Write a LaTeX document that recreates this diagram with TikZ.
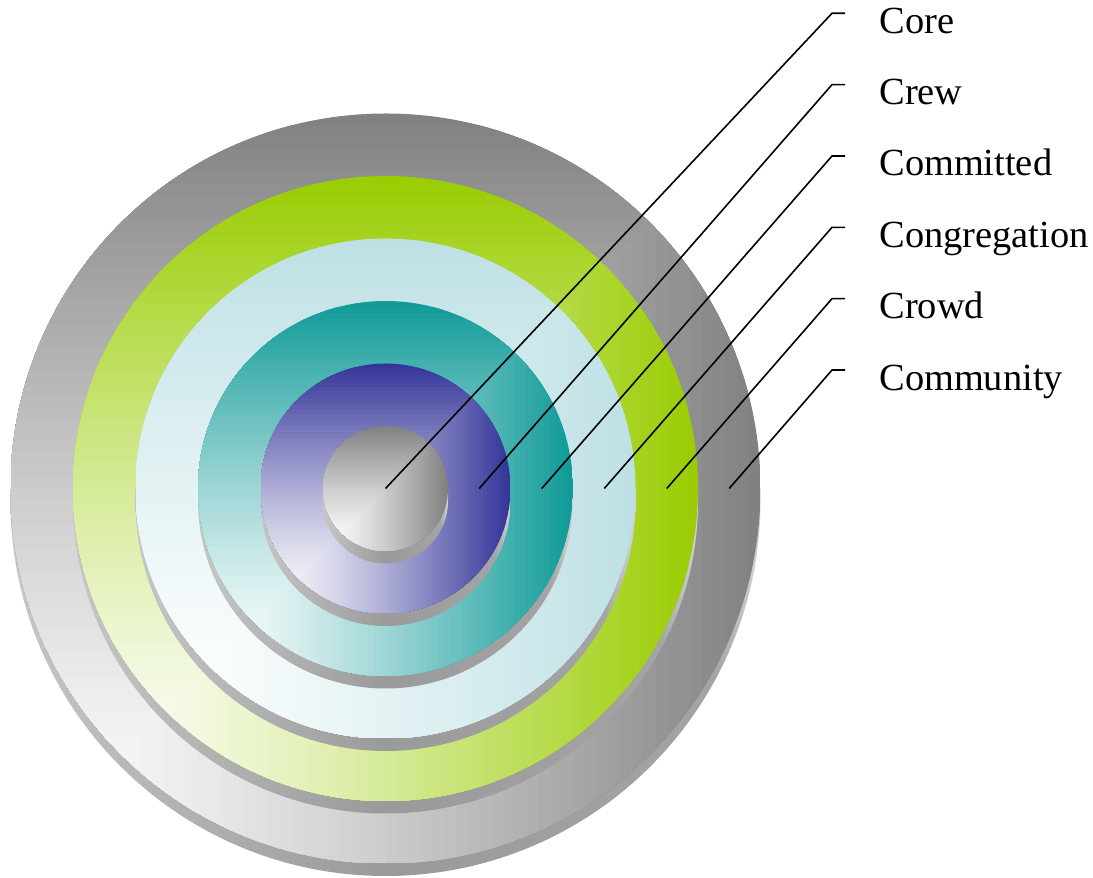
\documentclass[tikz,border=0pt]{standalone}
\usepackage{fontspec}
\setmainfont{Liberation Serif}
\usepackage{tikz}
\usetikzlibrary{calc}
\definecolor{ringgray}{HTML}{808080}
\definecolor{ringgreen}{HTML}{99CC00}
\definecolor{ringsky}{HTML}{BDE0E4}
\definecolor{ringteal}{HTML}{0E9A98}
\definecolor{ringblue}{HTML}{333399}
\definecolor{rimA}{HTML}{C6C6C6}
\definecolor{rimB}{HTML}{9A9A9A}
\definecolor{rimC}{HTML}{A4A4A4}
\definecolor{rimD}{HTML}{D4D4D4}
\pgfdeclarehorizontalshading{rimshade}{100bp}{color(0bp)=(rimA); color(25bp)=(rimA); color(50bp)=(rimB); color(72bp)=(rimC); color(75bp)=(rimD); color(100bp)=(rimD)}
\newcommand\ringface[2]{%
\begin{scope}
\clip (C) circle (#1);
\foreach \i in {64,63,...,1}{
  \pgfmathsetmacro\mixp{100*((\i-0.5)/64)^1.3}
  \pgfmathsetmacro\sq{#1/32*\i}
  \fill[#2!\mixp!white] ($(C)+(-#1,-#1)$) rectangle ++(\sq,\sq);
}
\end{scope}}

\begin{document}
\begin{tikzpicture}[x=0.5pt,y=0.5pt,
  lab/.style={anchor=base west,inner sep=0pt,font=\fontsize{19.2}{23}\selectfont},
  leader/.style={draw=black,line width=0.8pt}]
\useasboundingbox (0,0) rectangle (1093,878);
\coordinate (C) at (385.5,389.5);
\foreach \rad/\col in {375/ringgray,312.5/ringgreen,250/ringsky,187.5/ringteal,125/ringblue,62.5/ringgray}{
  \shade[shading=rimshade] ($(C)+(-\rad,0)$) -- ++(0,-12.5) arc[start angle=180,end angle=360,radius=\rad] -- ++(0,12.5) -- cycle;
  \ringface{\rad}{\col}
}
\foreach \nm/\rr/\tx [count=\j from 0] in {core/0/Core,crew/93.75/Crew,comm/156.25/Committed,cong/218.75/Congregation,crowd/281.25/Crowd,cmty/343.75/Community}{
  \coordinate (p\nm) at ($(C)+(\rr,0)$);
  \coordinate (k\nm) at (832,864.7-71.35*\j);
  \coordinate (e\nm) at (845,864.7-71.35*\j);
  \node[lab] (l\nm) at (879,844.7-71.35*\j) {\tx};
  \draw[leader] (p\nm) -- (k\nm) -- (e\nm);
}
\end{tikzpicture}
\end{document}
